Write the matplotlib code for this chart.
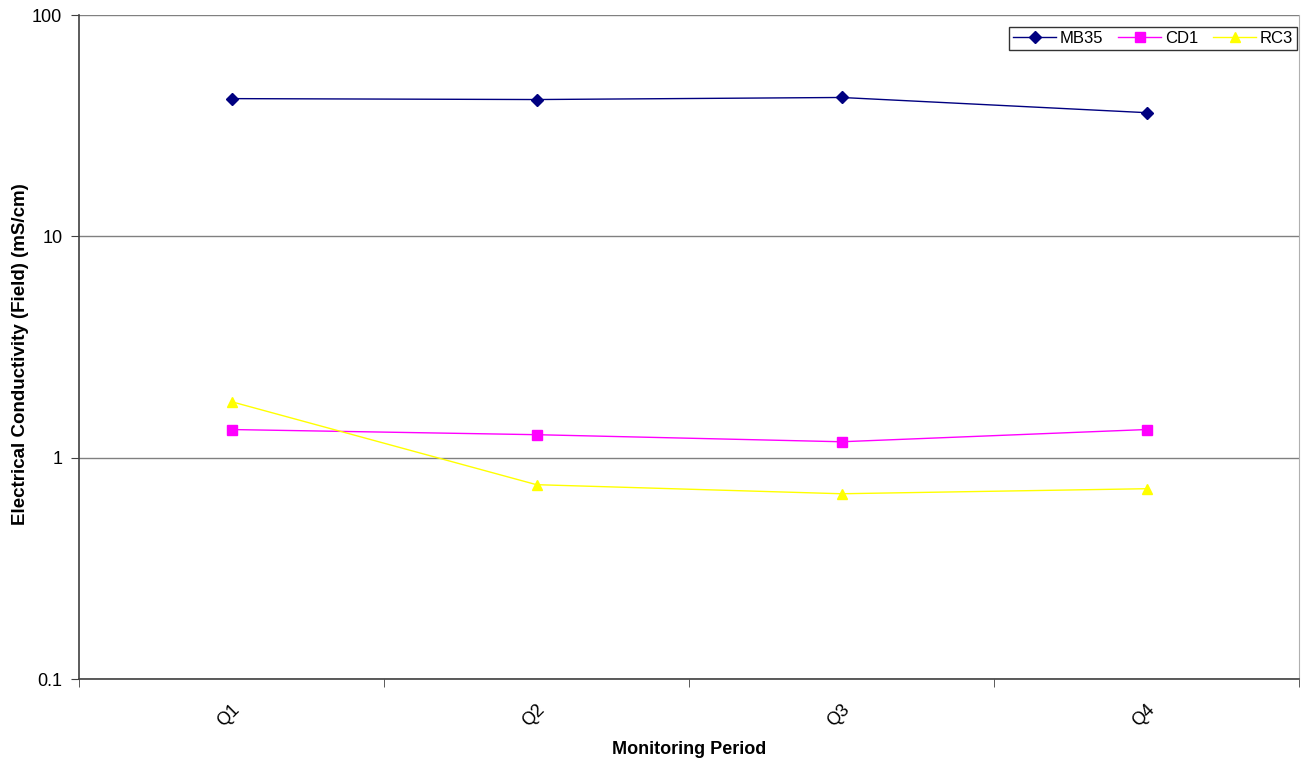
import matplotlib
matplotlib.use("Agg")
import matplotlib.pyplot as plt
from matplotlib.ticker import FixedLocator, NullLocator

plt.rcParams['font.family'] = ['Liberation Sans', 'DejaVu Sans']

periods = ["Q1", "Q2", "Q3", "Q4"]
mb35 = [41.9, 41.5, 42.4, 36.2]
cd1 = [1.34, 1.27, 1.18, 1.34]
rc3 = [1.79, 0.755, 0.687, 0.724]

fig = plt.figure(figsize=(13.02, 7.67), dpi=100)
ax = fig.add_axes([79 / 1302, 1 - 679 / 767, 1220 / 1302, 664 / 767])

x = list(range(len(periods)))
ax.plot(x, mb35, color="#000080", lw=1.0, marker="D", ms=6, mfc="#000080", mec="#000080", label="MB35")
ax.plot(x, cd1, color="#FF00FF", lw=1.0, marker="s", ms=7, mfc="#FF00FF", mec="#FF00FF", label="CD1")
ax.plot(x, rc3, color="#FFFF00", lw=1.0, marker="^", ms=7, mfc="#FFFF00", mec="#FFFF00", label="RC3")

ax.set_yscale("log")
ax.set_ylim(0.1, 100)
ax.set_xlim(-0.5, len(periods) - 0.5)
ax.yaxis.set_major_locator(FixedLocator([0.1, 1, 10, 100]))
ax.yaxis.set_minor_locator(NullLocator())
ax.set_yticklabels(["0.1", "1", "10", "100"])
ax.grid(axis="y", color="#808080", lw=1.0)
ax.set_axisbelow(True)

ax.set_xticks(x)
ax.set_xticklabels(periods, rotation=45, ha="right", rotation_mode="anchor", fontsize=13)
ax.xaxis.set_minor_locator(FixedLocator([i - 0.5 for i in range(len(periods) + 1)]))
ax.tick_params(axis="x", which="major", length=0, pad=16)
ax.tick_params(axis="x", which="minor", length=6, direction="out", color="#404040")
ax.tick_params(axis="y", which="major", length=6, direction="out", labelsize=13, color="#404040", pad=6)

for side in ("left", "bottom"):
    ax.spines[side].set_color("#404040")
    ax.spines[side].set_linewidth(1.2)
ax.spines["top"].set_visible(False)
ax.spines["right"].set_color("#b0b0b0")

ax.set_xlabel("Monitoring Period", fontsize=13, fontweight="bold", labelpad=8)
ax.set_ylabel("Electrical Conductivity (Field) (mS/cm)", fontsize=13.5, fontweight="bold")
ax.yaxis.set_label_coords(-0.041, 0.49)

leg = ax.legend(loc="upper right", bbox_to_anchor=((1297 - 79) / 1220, (679 - 27) / 664),
                borderaxespad=0, ncol=3, fontsize=12, frameon=True, fancybox=False,
                edgecolor="black", handlelength=2.6,
                columnspacing=0.9, handletextpad=0.2, borderpad=0.25)
leg.get_frame().set_linewidth(1.0)

fig.savefig("out.png", dpi=100, facecolor="white")
